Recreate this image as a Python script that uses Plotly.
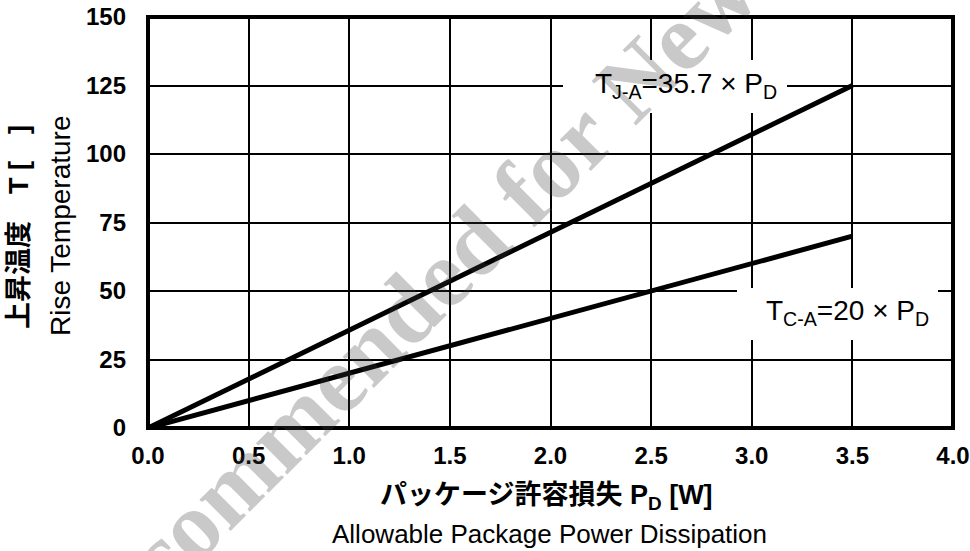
import plotly.graph_objects as go

# ---- data ----
pd_w = [0.0, 3.5]              # package power dissipation P_D [W]
t_ja = [0.0, 125.0]            # T_J-A = 35.7 x P_D
t_ca = [0.0, 70.0]             # T_C-A = 20 x P_D
x_ticks = [0.0, 0.5, 1.0, 1.5, 2.0, 2.5, 3.0, 3.5, 4.0]
x_tick_text = ["0.0", "0.5", "1.0", "1.5", "2.0", "2.5", "3.0", "3.5", "4.0"]
y_ticks = [0, 25, 50, 75, 100, 125, 150]
y_tick_text = ["0", "25", "50", "75", "100", "125", "150"]
label_ja = "T<sub>J-A</sub>=35.7 × P<sub>D</sub>"
label_ca = "T<sub>C-A</sub>=20 × P<sub>D</sub>"
y_title_jp = "上昇温度　T [　]"
y_title_en = "Rise Temperature"
x_title_jp = "パッケージ許容損失 P<sub>D</sub> [W]"
x_title_en = "Allowable Package Power Dissipation"
watermark = "Not Recommended for New Design"

# ---- layout geometry (page body margin removed by post_script) ----
FW, FH = 970, 551
L, R, T, B = 148, 17, 17, 123
PW, PH = FW - L - R, FH - T - B


def px_x(px):
    return (px - L) / PW


def px_y(py):
    return 1 - (py - T) / PH


FONT = "Liberation Sans, Arial, Noto Sans CJK JP, sans-serif"

fig = go.Figure()
for ys in (t_ja, t_ca):
    fig.add_trace(go.Scatter(x=pd_w, y=ys, mode="lines",
                             line=dict(color="black", width=5),
                             hoverinfo="skip"))

axis_common = dict(showgrid=True, gridcolor="black", gridwidth=2,
                   zeroline=False, showline=False, ticks="",
                   automargin=False, ticklabeloverflow="allow",
                   tickfont=dict(family=FONT, size=24, color="black", weight="bold"))

fig.update_layout(
    width=FW, height=FH,
    margin=dict(l=L, r=R, t=T, b=B, pad=0, autoexpand=False),
    paper_bgcolor="white", plot_bgcolor="white",
    showlegend=False,
    xaxis=dict(range=[0, 4], tickvals=x_ticks, ticktext=x_tick_text,
               ticklabelstandoff=11, **axis_common),
    yaxis=dict(range=[0, 150], tickvals=y_ticks, ticktext=y_tick_text,
               ticklabelstandoff=21, **axis_common),
)

# white label boxes (cover grid; they do not touch the data lines)
fig.add_shape(type="rect", xref="paper", yref="paper",
              x0=px_x(563), x1=px_x(787), y0=px_y(113), y1=px_y(60),
              fillcolor="white", line=dict(width=0), layer="above")
fig.add_shape(type="rect", xref="paper", yref="paper",
              x0=px_x(737), x1=px_x(938), y0=px_y(340), y1=px_y(288),
              fillcolor="white", line=dict(width=0), layer="above")
# frame
fig.add_shape(type="rect", xref="x domain", yref="y domain",
              x0=0, x1=1, y0=0, y1=1,
              line=dict(color="black", width=4), layer="above")

# watermark
fig.add_annotation(text=watermark, xref="paper", yref="paper",
                   x=px_x(446), y=px_y(269), xanchor="center", yanchor="middle",
                   showarrow=False, textangle=-45,
                   font=dict(family="Liberation Serif, Times New Roman, serif",
                             size=96, color="rgba(60,60,60,0.28)", weight="bold"))

# line labels
fig.add_annotation(text=label_ja, xref="paper", yref="paper",
                   x=px_x(779), y=px_y(85), xanchor="right", yanchor="middle",
                   showarrow=False,
                   font=dict(family=FONT, size=28, color="black"))
fig.add_annotation(text=label_ca, xref="paper", yref="paper",
                   x=px_x(931), y=px_y(312), xanchor="right", yanchor="middle",
                   showarrow=False,
                   font=dict(family=FONT, size=28, color="black"))

# axis titles
fig.add_annotation(text=y_title_jp, xref="paper", yref="paper",
                   x=px_x(19), y=px_y(227), xanchor="center", yanchor="middle",
                   textangle=-90, showarrow=False,
                   font=dict(family=FONT, size=27, color="black", weight="bold"))
fig.add_annotation(text=y_title_en, xref="paper", yref="paper",
                   x=px_x(60), y=px_y(226), xanchor="center", yanchor="middle",
                   textangle=-90, showarrow=False,
                   font=dict(family=FONT, size=28, color="black"))
fig.add_annotation(text=x_title_jp, xref="paper", yref="paper",
                   x=px_x(546), y=px_y(497), xanchor="center", yanchor="middle",
                   showarrow=False,
                   font=dict(family=FONT, size=27, color="black", weight="bold"))
fig.add_annotation(text=x_title_en, xref="paper", yref="paper",
                   x=px_x(549), y=px_y(534), xanchor="center", yanchor="middle",
                   showarrow=False,
                   font=dict(family=FONT, size=26, color="black"))

fig.write_html("out.html",
               config={"displayModeBar": False},
               post_script="document.body.style.margin='0';")
